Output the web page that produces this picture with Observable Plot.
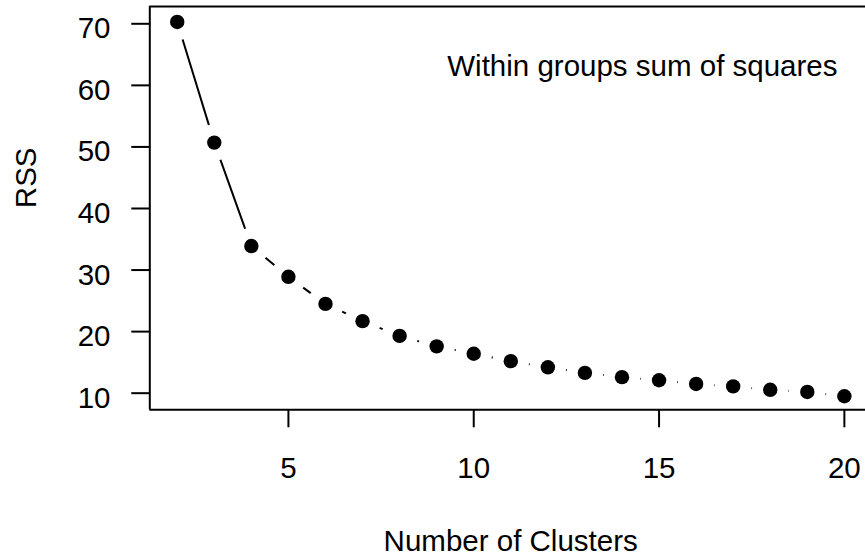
<!DOCTYPE html>
<html><head><meta charset="utf-8">
<script src="https://cdn.jsdelivr.net/npm/d3@7"></script>
<script src="https://cdn.jsdelivr.net/npm/@observablehq/plot@0.6"></script>
<style>html,body{margin:0;padding:0;background:#fff}</style>
</head><body><div id="chart"></div>
<script>
const clusters = [2,3,4,5,6,7,8,9,10,11,12,13,14,15,16,17,18,19,20];
const rss = [70.3,50.7,33.9,28.9,24.5,21.7,19.3,17.6,16.4,15.2,14.2,13.3,12.6,12.1,11.5,11.1,10.55,10.2,9.5];
const xTicks = [5,10,15,20];
const yTicks = [10,20,30,40,50,60,70];
const xLabel = "Number of Clusters";
const yLabel = "RSS";
const legendText = "Within groups sum of squares";

const data = clusters.map((k,i)=>({k, rss: rss[i]}));
const xDomain = [1.26, 20.57];
const yDomain = [7.30, 72.81];
const FS = 29.5;

const chart = Plot.plot({
  width: 865, height: 557,
  marginLeft: 149.3, marginRight: 0, marginTop: 6, marginBottom: 147.7,
  style: {fontFamily: "'Liberation Sans', Arial, Helvetica, sans-serif", fontSize: FS + "px", color: "#000", background: "#fff"},
  x: {domain: xDomain},
  y: {domain: yDomain},
  marks: [
    Plot.line(data, {x: "k", y: "rss", stroke: "#000", strokeWidth: 2}),
    Plot.dot(data, {x: "k", y: "rss", r: 18.4, fill: "#fff", stroke: "none"}),
    Plot.dot(data, {x: "k", y: "rss", r: 7.2, fill: "#000", stroke: "none"}),
    Plot.ruleY([yDomain[0], yDomain[1]], {stroke: "#000", strokeWidth: 2}),
    Plot.ruleX([xDomain[0]], {stroke: "#000", strokeWidth: 2}),
    Plot.axisX({ticks: xTicks, tickSize: 18, tickPadding: 29.7, strokeWidth: 2, fontSize: FS, label: null, tickFormat: d => String(d)}),
    Plot.axisY({ticks: yTicks, tickSize: 18, strokeWidth: 2, fill: "none", label: null}),
    Plot.axisY({ticks: yTicks, tickSize: 0, tickPadding: 39.3, dy: 5, fontSize: FS, label: null, tickFormat: d => String(d)}),
    Plot.text([yLabel], {frameAnchor: "left", rotate: -90, dx: -114.3, lineAnchor: "bottom", fontSize: FS, fill: "#000"}),
    Plot.text([xLabel], {frameAnchor: "bottom", dx: 3, dy: 141.4, lineAnchor: "bottom", fontSize: FS, fill: "#000"}),
    Plot.text([legendText], {frameAnchor: "top-right", textAnchor: "end", dx: -28, dy: 69, lineAnchor: "bottom", fontSize: FS, fill: "#000"})
  ]
});
document.getElementById("chart").appendChild(chart);
</script>
</body></html>
